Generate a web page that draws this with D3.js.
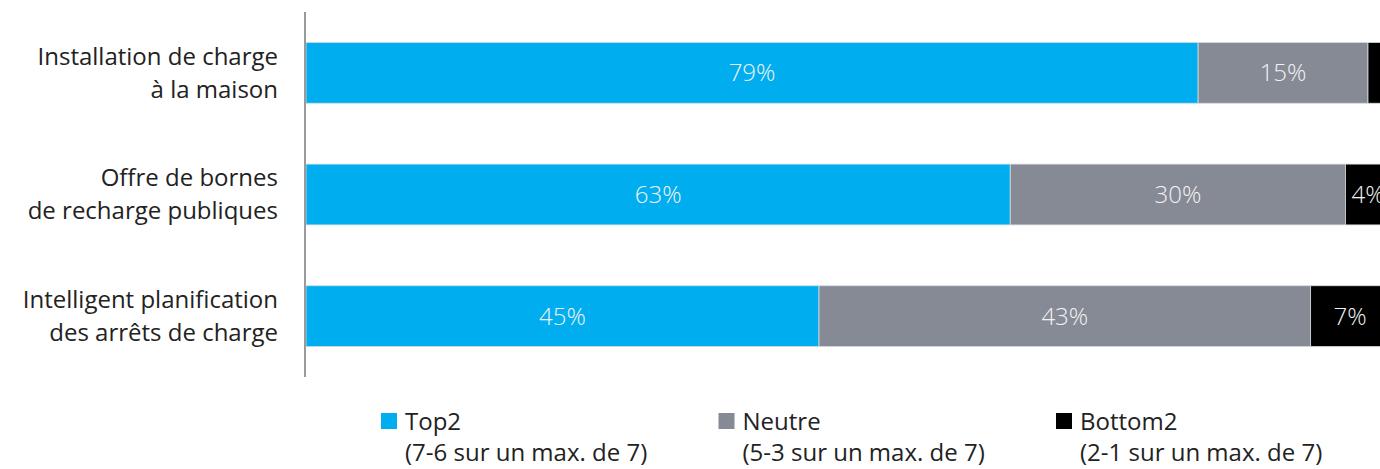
<!DOCTYPE html>
<html>
<head>
<meta charset="utf-8">
<script src="https://cdn.jsdelivr.net/npm/d3@7"></script>
<style>
  body { margin: 0; background: #fff; }
  svg { display: block; font-family: "Open Sans", "Noto Sans", sans-serif; }
</style>
</head>
<body>
<svg id="chart" width="1380" height="469"></svg>
<script>
// categories, two lines each
var categories = [
    ["Installation de charge", "à la maison"],
    ["Offre de bornes", "de recharge publiques"],
    ["Intelligent planification", "des arrêts de charge"]
];
var top2 = [79.3, 62.6, 45.6];
var neutre = [15.1, 29.8, 43.7];
var bottom2 = [2, 4, 7];
var labelsTop2 = ["79%", "63%", "45%"];
var labelsNeutre = ["15%", "30%", "43%"];
var labelsBottom2 = ["", "4%", "7%"];

var seriesNames = ["Top2", "Neutre", "Bottom2"];
var seriesNotes = ["(7-6 sur un max. de 7)", "(5-3 sur un max. de 7)", "(2-1 sur un max. de 7)"];
var colors = ["#00aeef", "#858a95", "#000000"];

var width = 1380, height = 469;
var svg = d3.select('#chart');

var x = d3.scaleLinear().domain([0, 100]).range([306, 1431]);
var y = d3.scaleBand().domain(d3.range(categories.length))
    .range([12, 377]).paddingInner(0.5).paddingOuter(0.25);

// rows for stacking
var rows = categories.map(function (c, i) {
    return { i: i, Top2: top2[i], Neutre: neutre[i], Bottom2: bottom2[i] };
});
var stack = d3.stack().keys(seriesNames)(rows);
var labelSets = [labelsTop2, labelsNeutre, labelsBottom2];

const groups = svg.selectAll('g.series')
    .data(stack)
    .join('g')
    .attr('class', 'series')
    .attr('fill', (d, k) => colors[k]);

groups.selectAll('rect')
    .data(d => d)
    .join('rect')
    .attr('x', d => x(d[0]))
    .attr('y', d => y(d.data.i))
    .attr('width', d => x(d[1]) - x(d[0]))
    .attr('height', y.bandwidth())
    .attr('stroke', '#d8dbe0')
    .attr('stroke-width', 0.8);

groups.selectAll('text')
    .data((d, k) => d.map(v => ({ v: v, label: labelSets[k][v.data.i] })))
    .join('text')
    .attr('x', d => (x(d.v[0]) + x(d.v[1])) / 2)
    .attr('y', d => y(d.v.data.i) + y.bandwidth() / 2)
    .attr('dy', '0.35em')
    .attr('text-anchor', 'middle')
    .attr('fill', '#f2f2f2')
    .attr('font-size', 24)
    .attr('font-weight', 300)
    .text(d => d.label);

// vertical axis line
svg.append('line')
    .attr('x1', 305).attr('x2', 305)
    .attr('y1', 12).attr('y2', 377)
    .attr('stroke', '#9a9a9a')
    .attr('stroke-width', 2);

// category labels
const catText = svg.selectAll('text.cat')
    .data(categories)
    .join('text')
    .attr('class', 'cat')
    .attr('text-anchor', 'end')
    .attr('font-size', 24)
    .attr('fill', '#222');

catText.selectAll('tspan')
    .data((d, i) => d.map(line => ({ line: line, i: i })))
    .join('tspan')
    .attr('x', 278)
    .attr('y', (d, j) => y(d.i) + y.bandwidth() / 2 - 16.5 + j * 33)
    .attr('dy', '0.35em')
    .text(d => d.line);

// legend
var legendX = d3.scalePoint().domain(seriesNames).range([381, 1056]);
const legend = svg.selectAll('g.legend')
    .data(seriesNames)
    .join('g')
    .attr('class', 'legend')
    .attr('transform', d => 'translate(' + legendX(d) + ',0)');

legend.append('rect')
    .attr('x', 0).attr('y', 413)
    .attr('width', 16).attr('height', 16)
    .attr('fill', (d, k) => colors[k]);

legend.append('text')
    .attr('x', 24).attr('y', 430)
    .attr('font-size', 24)
    .attr('fill', '#222')
    .text(d => d);

legend.append('text')
    .attr('x', 24).attr('y', 461)
    .attr('font-size', 24)
    .attr('fill', '#222')
    .text((d, k) => seriesNotes[k]);
</script>
</body>
</html>
